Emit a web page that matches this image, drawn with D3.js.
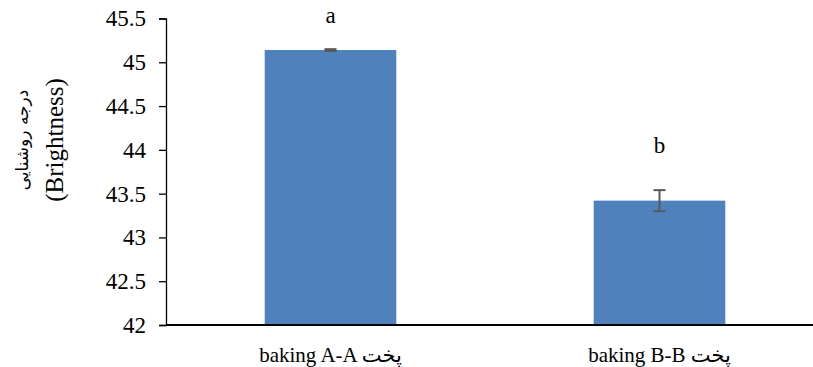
<!DOCTYPE html>
<html>
<head>
<meta charset="utf-8">
<script src="https://cdn.jsdelivr.net/npm/d3@7"></script>
<style>
  html, body { margin: 0; padding: 0; background: #fff; }
  svg { display: block; }
  text { font-family: "Liberation Serif", "DejaVu Sans", serif; fill: #000; }
</style>
</head>
<body>
<svg id="chart" width="813" height="367"></svg>
<script>
// Brightness by baking method
const categories = ["baking A-A پخت", "baking B-B پخت"];
const means = [45.14, 43.42];
const errors = [0.01, 0.12];
const letters = ["a", "b"];
const yTicks = [42, 42.5, 43, 43.5, 44, 44.5, 45, 45.5];
const yTitle = ["درجه روشنایی", "(Brightness)"];

const svg = d3.select("#chart");
const plotLeft = 166, plotTop = 18.5, plotBottom = 325, plotRight = 824;

const y = d3.scaleLinear().domain([42, 45.5]).range([plotBottom, plotTop]);
const x = d3.scaleBand().domain(categories).range([plotLeft, plotRight]).paddingInner(0.6).paddingOuter(0.3);

const data = categories.map((c, i) => ({ c, v: means[i], e: errors[i], l: letters[i] }));

// bars
svg.selectAll("rect.bar").data(data).join("rect")
  .attr("class", "bar")
  .attr("x", d => x(d.c))
  .attr("width", x.bandwidth())
  .attr("y", d => y(d.v))
  .attr("height", d => y(42) - y(d.v))
  .attr("fill", "#4f81bd");

// error bars
const eb = svg.selectAll("g.err").data(data).join("g").attr("class", "err")
  .attr("stroke", "#595959").attr("stroke-width", 2);
eb.append("line")
  .attr("x1", d => x(d.c) + x.bandwidth() / 2).attr("x2", d => x(d.c) + x.bandwidth() / 2)
  .attr("y1", d => y(d.v + d.e)).attr("y2", d => y(d.v - d.e));
eb.append("line")
  .attr("x1", d => x(d.c) + x.bandwidth() / 2 - 6).attr("x2", d => x(d.c) + x.bandwidth() / 2 + 6)
  .attr("y1", d => y(d.v + d.e)).attr("y2", d => y(d.v + d.e));
eb.append("line")
  .attr("x1", d => x(d.c) + x.bandwidth() / 2 - 6).attr("x2", d => x(d.c) + x.bandwidth() / 2 + 6)
  .attr("y1", d => y(d.v - d.e)).attr("y2", d => y(d.v - d.e));

// significance letters
svg.selectAll("text.letter").data(data).join("text")
  .attr("class", "letter")
  .attr("x", d => x(d.c) + x.bandwidth() / 2)
  .attr("y", (d, i) => i === 0 ? 23 : 153)
  .attr("text-anchor", "middle")
  .style("font-size", "23px")
  .text(d => d.l);

// y axis
const yAxis = svg.append("g")
  .attr("transform", `translate(${plotLeft},0)`)
  .call(d3.axisLeft(y).tickValues(yTicks).tickSize(7).tickPadding(13).tickFormat(d3.format("")));
yAxis.select(".domain").attr("stroke", "#000").attr("stroke-width", 1.3);
yAxis.selectAll(".tick line").attr("stroke", "#000").attr("stroke-width", 1.3);
yAxis.selectAll(".tick text")
  .style("font-family", "'Liberation Serif', serif")
  .style("font-size", "23px").attr("fill", "#000");

// x baseline
svg.append("line")
  .attr("x1", plotLeft).attr("x2", 813)
  .attr("y1", plotBottom).attr("y2", plotBottom)
  .attr("stroke", "#000").attr("stroke-width", 1.8);

// category labels
svg.selectAll("text.cat").data(categories).join("text")
  .attr("class", "cat")
  .attr("x", d => x(d) + x.bandwidth() / 2)
  .attr("y", 362)
  .attr("text-anchor", "middle")
  .attr("direction", "ltr")
  .style("font-size", "21px")
  .text(d => d);

// y title (two lines, rotated)
const yt = svg.append("text")
  .attr("transform", "translate(0,140) rotate(-90)")
  .attr("text-anchor", "middle");
yt.append("tspan").attr("x", 0).attr("y", 28)
  .style("font-family", "'DejaVu Sans', sans-serif").style("font-size", "17px")
  .text(yTitle[0]);
yt.append("tspan").attr("x", 0).attr("y", 63)
  .style("font-size", "25px")
  .text(yTitle[1]);
</script>
</body>
</html>
